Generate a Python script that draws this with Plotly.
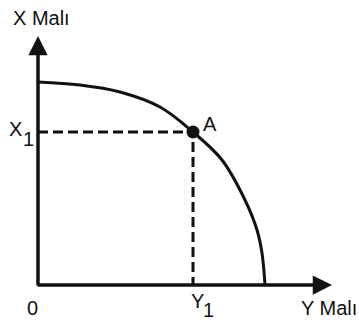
import plotly.graph_objects as go

# frontier (pixel offsets from the origin)
curve_x = [0, 42, 82, 122, 155, 184, 207, 219, 224, 227]
curve_y = [203, 200, 193, 178, 153, 125, 85, 55, 32, 0]
point_a = (155, 153)
x_axis_end = 294
y_axis_end = 249

BLACK = "#111111"
FONT = dict(family="Liberation Sans, Arial, sans-serif", size=20, color=BLACK)

fig = go.Figure()

# dashed guides to point A
fig.add_trace(go.Scatter(
    x=[0, point_a[0], point_a[0]], y=[point_a[1], point_a[1], 0],
    mode="lines", line=dict(color=BLACK, width=3, dash="10px,5px"),
    hoverinfo="skip",
))
fig.add_trace(go.Scatter(
    x=curve_x, y=curve_y, mode="lines",
    line=dict(color=BLACK, width=3, shape="spline", smoothing=1.0),
    hoverinfo="skip",
))
fig.add_trace(go.Scatter(
    x=[point_a[0]], y=[point_a[1]], mode="markers",
    marker=dict(color=BLACK, size=13), hoverinfo="skip",
))

# axes with arrows
for tx, ty, sx, sy in [(x_axis_end, 0, -2, 0), (0, y_axis_end, 0, -2)]:
    fig.add_annotation(
        x=tx, y=ty, ax=sx, ay=sy, xref="x", yref="y", axref="x", ayref="y",
        showarrow=True, arrowhead=2, arrowsize=1.1, arrowwidth=3.5,
        arrowcolor=BLACK, text="",
    )

labels = [
    ("X Malı", -26, 267, "left"),
    ("X", -22.5, 156, "center"),
    ("1", -10, 146, "center"),
    ("A", 172, 161, "center"),
    ("0", -6, -23, "center"),
    ("Y", 159.5, -16, "center"),
    ("1", 170, -25, "center"),
    ("Y Malı", 320, -23, "right"),
]
for text, lx, ly, anchor in labels:
    fig.add_annotation(x=lx, y=ly, xref="x", yref="y", text=text,
                       showarrow=False, xanchor=anchor, font=FONT,
                       borderpad=0)

fig.update_xaxes(range=[-38, 321], visible=False, fixedrange=True)
fig.update_yaxes(range=[-38, 285], visible=False, fixedrange=True)
fig.update_layout(
    width=359, height=323,
    margin=dict(l=0, r=0, t=0, b=0),
    paper_bgcolor="white", plot_bgcolor="white",
    showlegend=False,
)

# drop the default page margin so the figure fills the window
fig.write_html(
    "out.html",
    config={"displayModeBar": False},
    post_script="document.body.style.margin='0';document.body.style.overflow='hidden';",
)
